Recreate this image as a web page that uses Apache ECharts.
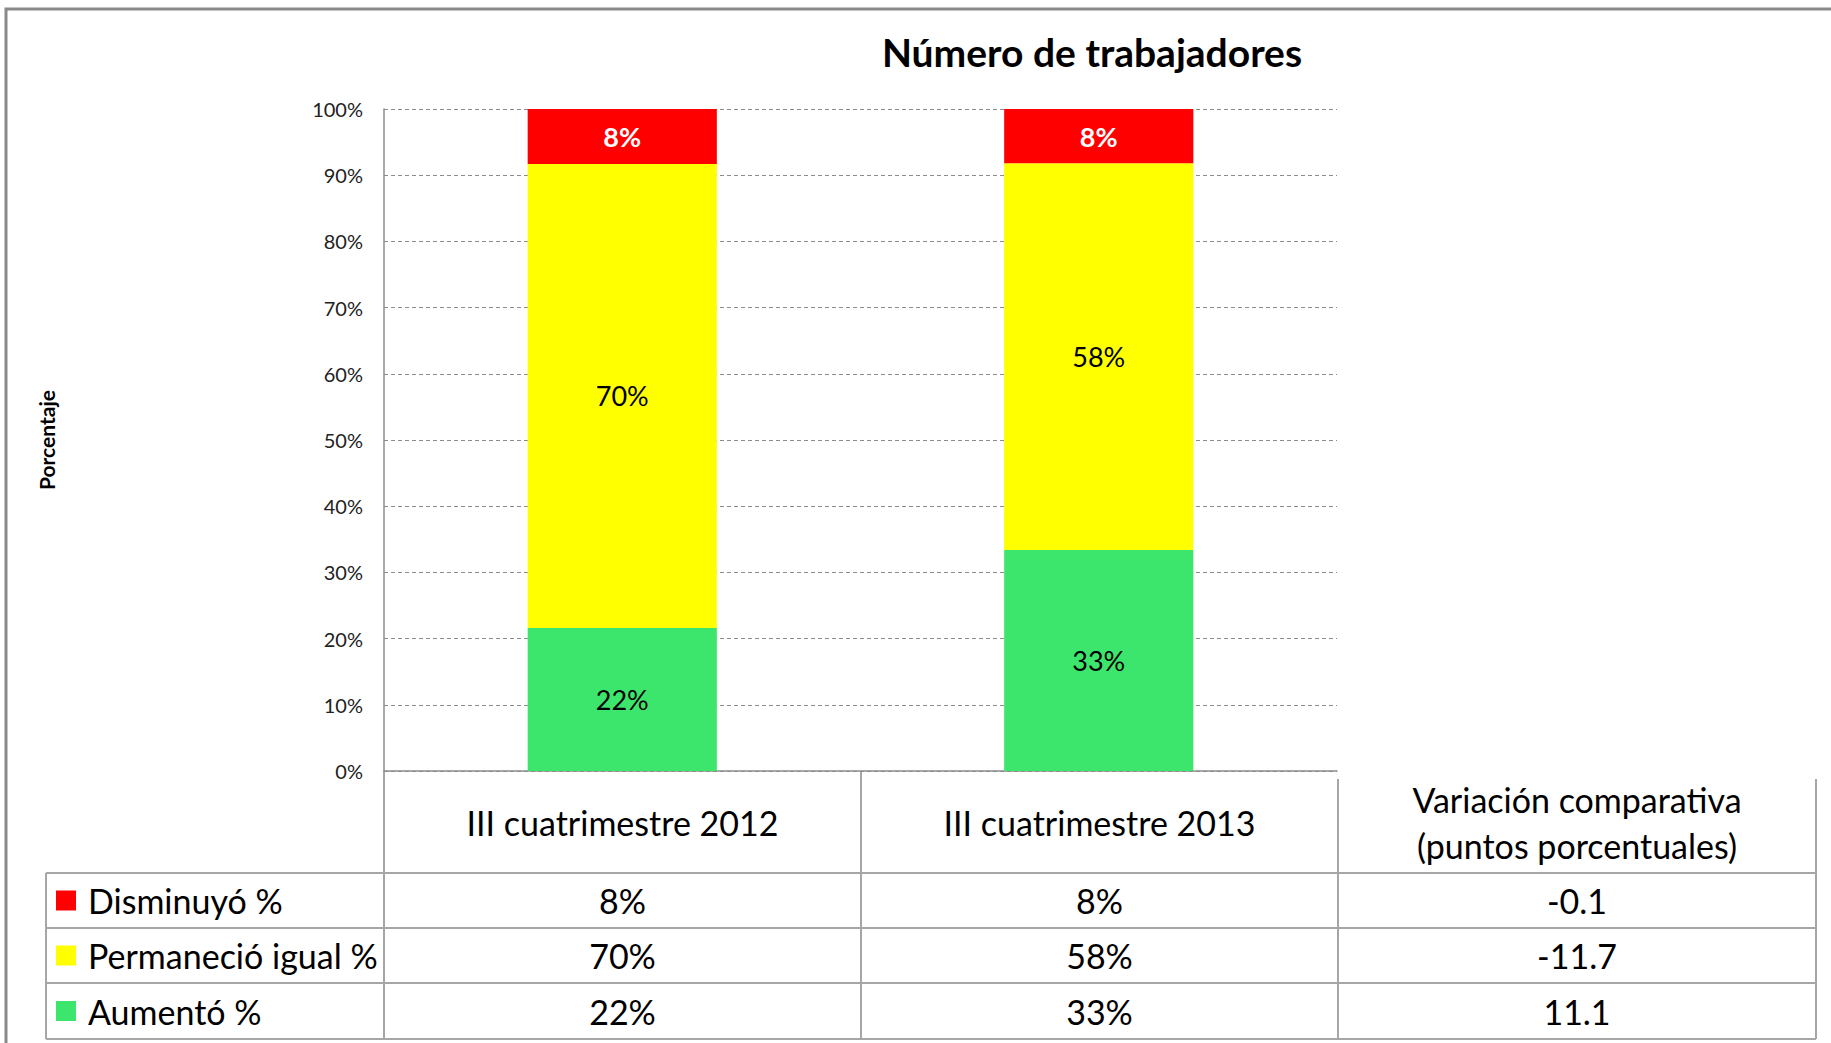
<!DOCTYPE html>
<html>
<head>
<meta charset="utf-8">
<script src="https://cdn.jsdelivr.net/npm/echarts@6/dist/echarts.min.js"></script>
<style>
    html, body { margin: 0; padding: 0; background: #fff; }
    #chart { width: 1831px; height: 1043px; }
</style>
</head>
<body>
<div id="chart"></div>
<script>
    // datos
    const categories = ['III cuatrimestre 2012', 'III cuatrimestre 2013'];
    const seriesNames = ['Disminuyó %', 'Permaneció igual %', 'Aumentó %'];
    const disminuyo = [8.3, 8.2];
    const permanecio = [70.1, 58.4];
    const aumento = [21.6, 33.4];
    const variacion = [-0.1, -11.7, 11.1];
    const colors = ['#ff0000', '#ffff00', '#3ce66c'];
    const titleText = 'Número de trabajadores';
    const varHeader = ['Variación comparativa', '(puntos porcentuales)'];

    const font = 'Lato, "Noto Sans", sans-serif';
    const gridColor = '#8c8c8c';
    const tableColor = '#a6a6a6';

    // geometría del área de trazado y de la tabla
    const plotL = 384, plotR = 1337, plotT = 109, plotB = 771;
    const colX = [46, 384, 861, 1338, 1816];
    const rowY = [771, 873, 928, 983, 1039];

    let myChart = echarts.init(document.getElementById('chart'), null, {renderer: 'svg'});

    function pct(v) { return Math.round(v) + '%'; }

    let rows = [disminuyo, permanecio, aumento];
    let graphics = [];

    // borde exterior
    graphics.push({type: 'rect', shape: {x: 6, y: 9, width: 1860, height: 1060},
        style: {fill: 'none', stroke: '#8a8a8a', lineWidth: 3}, silent: true});
    // título
    graphics.push({type: 'text', x: 1092, y: 52, style: {text: titleText, align: 'center',
        verticalAlign: 'middle', font: 'bold 39px ' + font, fill: '#000'}});

    function line(x1, y1, x2, y2) {
        graphics.push({type: 'line', shape: {x1: x1, y1: y1, x2: x2, y2: y2},
            style: {stroke: tableColor, lineWidth: 2}, silent: true});
    }
    // líneas de la tabla
    line(colX[1], rowY[0], colX[1], rowY[4]);
    line(colX[2], rowY[0], colX[2], rowY[4]);
    line(colX[3], 779, colX[3], rowY[4]);
    line(colX[4], 779, colX[4], rowY[4]);
    line(colX[0], rowY[1], colX[0], rowY[4]);
    for (let i = 1; i < rowY.length; i++) {
        line(colX[0], rowY[i], colX[4], rowY[i]);
    }

    function cellText(x, y, txt) {
        graphics.push({type: 'text', x: x, y: y, style: {text: txt, align: 'center',
            verticalAlign: 'middle', font: '34px ' + font, fill: '#000'}});
    }
    // encabezados
    let headY = (rowY[0] + rowY[1]) / 2;
    categories.forEach(function (c, i) {
        cellText((colX[i + 1] + colX[i + 2]) / 2, headY, c);
    });
    cellText((colX[3] + colX[4]) / 2, 799, varHeader[0]);
    cellText((colX[3] + colX[4]) / 2, 845, varHeader[1]);

    // filas
    seriesNames.forEach(function (name, r) {
        let cy = (rowY[r + 1] + rowY[r + 2]) / 2;
        graphics.push({type: 'rect', shape: {x: 56, y: cy - 10, width: 20, height: 20},
            style: {fill: colors[r]}, silent: true});
        graphics.push({type: 'text', x: 88, y: cy, style: {text: name, align: 'left',
            verticalAlign: 'middle', font: '34px ' + font, fill: '#000'}});
        cellText((colX[1] + colX[2]) / 2, cy, pct(rows[r][0]));
        cellText((colX[2] + colX[3]) / 2, cy, pct(rows[r][1]));
        cellText((colX[3] + colX[4]) / 2, cy, String(variacion[r]));
    });

    function barSeries(name, data, color, labelColor, bold) {
        return {
            name: name, type: 'bar', stack: 'total', data: data, barWidth: '39.7%',
            itemStyle: {color: color},
            label: {show: true, position: 'inside', formatter: function (p) { return pct(p.value); },
                color: labelColor, fontFamily: font, fontSize: 27, fontWeight: bold ? 'bold' : 'normal'}
        };
    }

    let options = {
        animation: false,
        grid: {left: plotL, right: 1831 - plotR, top: plotT, bottom: 1043 - plotB},
        xAxis: {
            type: 'category', data: categories,
            axisLine: {show: true, lineStyle: {color: gridColor, width: 1.5}},
            axisTick: {show: false},
            axisLabel: {show: false}
        },
        yAxis: {
            type: 'value', min: 0, max: 100, interval: 10,
            name: 'Porcentaje', nameLocation: 'middle', nameGap: 327, nameRotate: 90,
            nameTextStyle: {fontFamily: font, fontSize: 21, fontWeight: 'bold', color: '#000'},
            axisLine: {show: true, lineStyle: {color: gridColor, width: 1.5}},
            axisTick: {show: false},
            axisLabel: {formatter: '{value}%', fontFamily: font, fontSize: 20, color: '#222', margin: 21},
            splitLine: {lineStyle: {color: gridColor, type: [4, 3], width: 1}}
        },
        series: [
            barSeries(seriesNames[2], aumento, colors[2], '#000', false),
            barSeries(seriesNames[1], permanecio, colors[1], '#000', false),
            barSeries(seriesNames[0], disminuyo, colors[0], '#fff', true)
        ],
        graphic: graphics
    };
    myChart.setOption(options);
</script>
</body>
</html>
